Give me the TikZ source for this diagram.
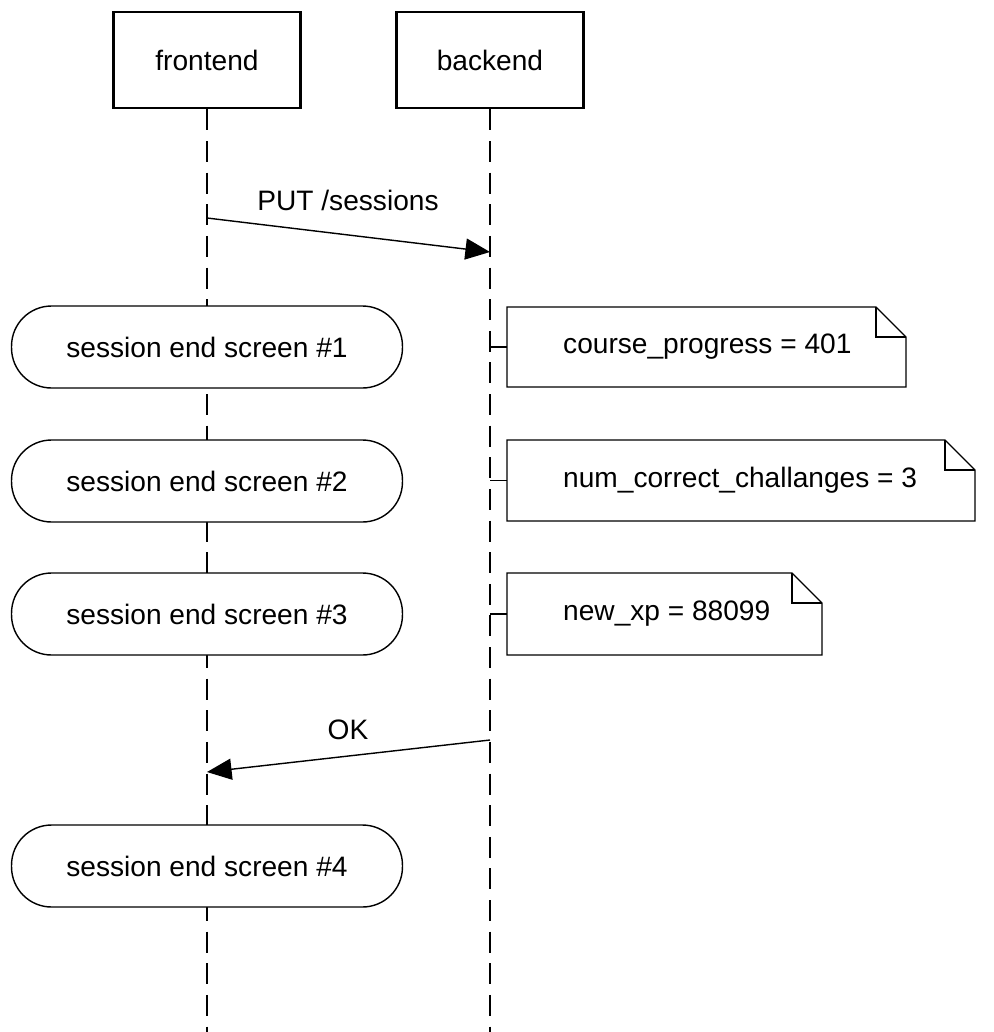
\documentclass[tikz,border=0pt]{standalone}
\usepackage{fontspec}
\setmainfont{Liberation Sans}
\usetikzlibrary{arrows.meta, shapes.multipart, shapes.misc}

\begin{document}
\begin{tikzpicture}[
  x=0.02cm, y=-0.02cm,
  every node/.style={font=\fontsize{16}{19}\selectfont},
  actor/.style={rectangle, draw, line width=1.6pt, minimum width=3.74cm, minimum height=1.92cm},
  lifeline/.style={dashed, dash pattern=on 12pt off 6pt, line width=0.8pt},
  screen/.style={rectangle, draw, rounded corners=0.8cm, line width=0.8pt, minimum width=7.82cm, minimum height=1.64cm},
  msg/.style={-{Triangle[length=14pt, width=12pt]}, line width=0.8pt},
  notebox/.style={draw, line width=0.8pt},
]
\useasboundingbox (0,0) rectangle (994,1032);

% participants
\node[actor] (fe) at (207,60) {frontend};
\node[actor] (be) at (490,60) {backend};
\coordinate (feEnd) at (207,1032);
\coordinate (beEnd) at (490,1032);
\draw[lifeline] (fe) -- (feEnd);
\draw[lifeline] (be) -- (beEnd);

% request
\coordinate (put1) at (207,218);
\coordinate (put2) at (490,252);
\draw[msg] (put1) -- (put2);
\node (putlbl) at (348,200) {PUT /sessions};

% screens
\node[screen, fill=white] (s1) at (207,347) {session end screen \#1};
\node[screen, fill=white] (s2) at (207,481) {session end screen \#2};
\node[screen, fill=white] (s3) at (207,614) {session end screen \#3};
\node[screen, fill=white] (s4) at (207,866) {session end screen \#4};

% notes
\foreach \n/\xa/\xb/\ya/\yb/\txt in {
  1/507/906/307/387/{course\_progress = 401},
  2/507/975/440/521/{num\_correct\_challanges = 3},
  3/507/822/573/655/{new\_xp = 88099}} {
  \draw[notebox, fill=white] (\xa,\ya) -- (\xb-30,\ya) -- (\xb,\ya+30) -- (\xb,\yb) -- (\xa,\yb) -- cycle;
  \draw[notebox] (\xb-30,\ya) -- (\xb-30,\ya+30) -- (\xb,\ya+30);
  \node[anchor=west] (note\n) at (557,{(\ya+\yb)/2}) {\txt};
  \draw[line width=0.8pt] (490,{(\ya+\yb)/2}) -- (\xa,{(\ya+\yb)/2});
}

% response
\coordinate (ok1) at (490,740);
\coordinate (ok2) at (207,772);
\draw[msg] (ok1) -- (ok2);
\node (oklbl) at (348,730) {OK};
\end{tikzpicture}
\end{document}
